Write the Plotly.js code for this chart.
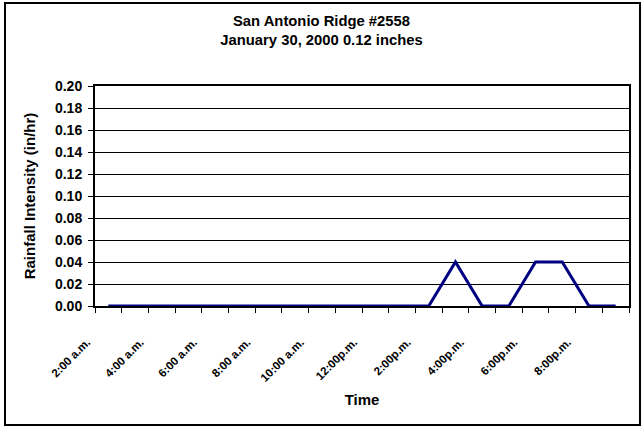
<!DOCTYPE html>
<html><head><meta charset="utf-8">
<script src="https://cdn.plot.ly/plotly-3.0.1.min.js"></script>
<style>
html,body{margin:0;padding:0;background:#fff}
#wrap{position:relative;width:643px;height:428px;overflow:hidden}
#chart{position:absolute;left:0;top:0;width:643px;height:428px}
#frame{position:absolute;left:4px;top:2px;width:633px;height:420px;border:2px solid #000;pointer-events:none}
</style></head><body>
<div id="wrap"><div id="chart"></div><div id="frame"></div></div>
<script>
// Hourly categories (2:00 a.m. to 9:00 p.m.)
const categories = ['2:00 a.m.','3:00 a.m.','4:00 a.m.','5:00 a.m.','6:00 a.m.','7:00 a.m.','8:00 a.m.','9:00 a.m.','10:00 a.m.','11:00 a.m.','12:00 p.m.','1:00 p.m.','2:00 p.m.','3:00 p.m.','4:00 p.m.','5:00 p.m.','6:00 p.m.','7:00 p.m.','8:00 p.m.','9:00 p.m.'];
// Rainfall intensity (in/hr)
const rainfall = [0,0,0,0,0,0,0,0,0,0,0,0,0,0.04,0,0,0.04,0.04,0,0];
// Axis labels shown for every second category, as printed
const tickLabels = ['2:00 a.m.','4:00 a.m.','6:00 a.m.','8:00 a.m.','10:00 a.m.','12:00p.m.','2:00p.m.','4:00p.m.','6:00p.m.','8:00p.m.'];
const yTicks = [0,0.02,0.04,0.06,0.08,0.10,0.12,0.14,0.16,0.18,0.20];

const xIdx = categories.map((c,i)=>i);
const bounds = [], boundText = [];
for (let i = 0; i <= categories.length; i++) {
  bounds.push(i - 0.5);
  boundText.push(i < categories.length && i % 2 === 0 ? tickLabels[i / 2] : '');
}

const FAM = 'Liberation Sans, Arial, sans-serif';
const trace = {
  x: xIdx, y: rainfall, type: 'scatter', mode: 'lines',
  line: {color: '#000080', width: 3}, hoverinfo: 'skip'
};
const layout = {
  width: 643, height: 428,
  margin: {l: 95, r: 14, t: 86, b: 122},
  paper_bgcolor: '#fff', plot_bgcolor: '#fff',
  showlegend: false,
  title: {text: 'San Antonio Ridge #2558<br>January 30, 2000 0.12 inches', x: 0.5, xref: 'container', xanchor: 'center', y: 0.94, yref: 'container', yanchor: 'top',
    font: {family: FAM, size: 14.8, color: '#000', weight: 'bold'}},
  xaxis: {
    range: [-0.5, categories.length - 0.5], tickmode: 'array', tickvals: bounds, ticktext: boundText,
    ticks: 'outside', ticklen: 5, tickcolor: '#000', tickwidth: 1,
    tickangle: -45, ticklabelstandoff: 18, ticklabelshift: -8,
    tickfont: {family: FAM, size: 11.5, color: '#000', weight: 'bold'},
    showline: true, linecolor: '#000', linewidth: 2, mirror: true,
    showgrid: false, zeroline: false, fixedrange: true,
    title: {text: 'Time', font: {family: FAM, size: 15, color: '#000', weight: 'bold'}, standoff: 12}
  },
  yaxis: {
    range: [0, 0.2], tickmode: 'array', tickvals: yTicks, ticktext: yTicks.map(v=>v.toFixed(2)),
    ticks: 'outside', ticklen: 5, tickcolor: '#000', tickwidth: 1, ticklabelstandoff: 3,
    tickfont: {family: FAM, size: 14, color: '#000', weight: 'bold'},
    showline: true, linecolor: '#000', linewidth: 2, mirror: true,
    showgrid: true, gridcolor: '#000', gridwidth: 1, zeroline: false, fixedrange: true,
    title: {text: 'Rainfall Intensity (in/hr)', font: {family: FAM, size: 15, color: '#000', weight: 'bold'}, standoff: 16}
  }
};
Plotly.newPlot('chart', [trace], layout, {displayModeBar: false, staticPlot: true});
</script>
</body></html>
